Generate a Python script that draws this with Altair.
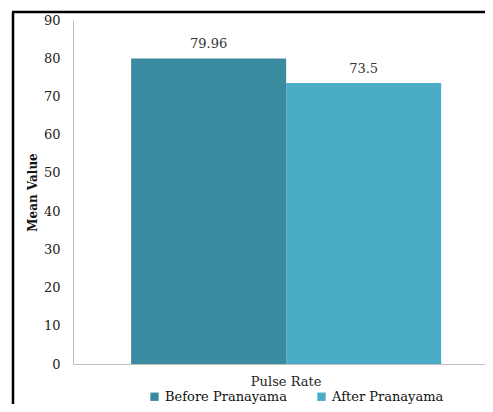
import altair as alt
import pandas as pd

categories = ["Pulse Rate", "Pulse Rate"]
series = ["Before Pranayama", "After Pranayama"]
values = [79.96, 73.5]
labels = ["79.96", "73.5"]
colors = ["#3A8BA0", "#4AACC6"]
y_ticks = [0, 10, 20, 30, 40, 50, 60, 70, 80, 90]

df = pd.DataFrame({"category": categories, "series": series, "value": values, "label": labels})

FONT = "DejaVu Serif"
W, H = 412, 344

x = alt.X(
    "category:N", title=None,
    scale=alt.Scale(paddingInner=0, paddingOuter=0.1645, align=0.57),
    axis=alt.Axis(labelAngle=0, ticks=False, labelPadding=11, domainColor="#BFBFBF",
                  labelFont=FONT, labelFontSize=13, labelColor="#222222"),
)
xo = alt.XOffset("series:N", sort=series, scale=alt.Scale(domain=series, paddingInner=0, paddingOuter=0))
y = alt.Y(
    "value:Q", title="Mean Value",
    scale=alt.Scale(domain=[0, 90], nice=False),
    axis=alt.Axis(values=y_ticks, grid=False, ticks=False, tickSize=0, labelPadding=13,
                  labelOverlap=False, labelFlush=False,
                  domainColor="#BFBFBF", labelFont=FONT, labelFontSize=13, labelColor="#222222",
                  titleFont=FONT, titleFontSize=12, titleFontWeight="bold", titleColor="#111111",
                  titlePadding=4),
)

base = alt.Chart(df)
bars = base.mark_bar().encode(
    x=x, xOffset=xo, y=y,
    color=alt.Color(
        "series:N", sort=series,
        scale=alt.Scale(domain=series, range=colors),
        legend=alt.Legend(title=None, orient="none", legendX=75, legendY=370, direction="horizontal",
                          symbolType="square", symbolSize=70, symbolStrokeWidth=0,
                          labelFont=FONT, labelFontSize=13, labelColor="#111111",
                          columnPadding=28, labelOffset=4),
    ),
)
text = base.mark_text(baseline="bottom", dy=-7, font=FONT, fontSize=13, color="#333333").encode(
    x=x, xOffset=xo, y=y, text="label:N"
)

frame_data = alt.Data(values=[{}])
left_rule = alt.Chart(frame_data).mark_rule(color="black", strokeWidth=2.5).encode(
    x=alt.value(-60), y=alt.value(-8), y2=alt.value(390)
)
top_rule = alt.Chart(frame_data).mark_rule(color="black", strokeWidth=2.5).encode(
    x=alt.value(-61), x2=alt.value(430), y=alt.value(-8)
)

chart = alt.layer(bars, text, left_rule, top_rule).properties(
    width=W, height=H,
    autosize=alt.AutoSizeParams(type="none"),
    padding={"left": 65, "top": 12, "right": 0, "bottom": 40},
    background="white",
).configure_view(stroke=None)

chart.save("out.html", embed_options={"renderer": "svg", "actions": False})
